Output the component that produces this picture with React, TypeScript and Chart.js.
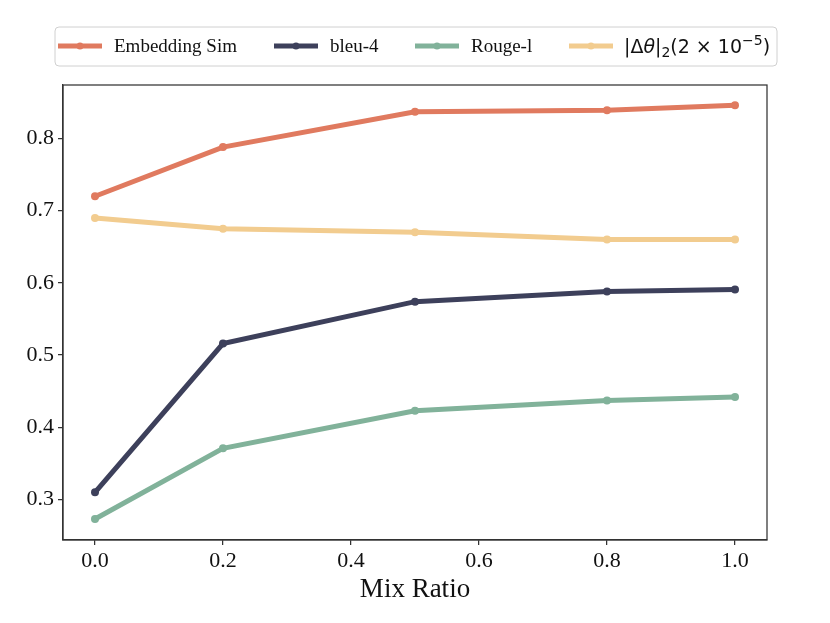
import React, { useEffect, useRef } from "react";
import { Chart, registerables } from "chart.js";

Chart.register(...registerables);

const mixRatios = [0.0, 0.2, 0.5, 0.8, 1.0];
const embeddingSim = [0.72, 0.788, 0.837, 0.839, 0.846];
const bleu4 = [0.31, 0.516, 0.574, 0.588, 0.591];
const rouge1 = [0.273, 0.371, 0.423, 0.437, 0.442];
const deltaTheta = [0.69, 0.675, 0.67, 0.66, 0.66];

const xTicks = [0.0, 0.2, 0.4, 0.6, 0.8, 1.0];
const yTicks = [0.3, 0.4, 0.5, 0.6, 0.7, 0.8];

const seriesNames = ["Embedding Sim", "bleu-4", "Rouge-l", "|Δθ|₂(2 × 10⁻⁵)"];
const seriesColors = ["#E07A5F", "#3D405B", "#81B29A", "#F2CC8F"];

const SERIF = "'Liberation Serif', 'DejaVu Serif', serif";
const SANS = "'DejaVu Sans', sans-serif";

// math-style pieces for the last legend label: [text, style, size, dy]
const mathPieces: [string, string, number, number][] = [
  ["|Δ", "normal", 19, 0],
  ["θ", "italic", 19, 0],
  ["|", "normal", 19, 0],
  ["2", "normal", 14, 4],
  ["(2 × 10", "normal", 19, 0],
  ["−5", "normal", 14, -8],
  [")", "normal", 19, 0],
];

const legendPlugin = {
  id: "boxLegend",
  afterDraw(chart: any) {
    const ctx = chart.ctx;
    ctx.save();
    const bx = 55, by = 27, bw = 722, bh = 39, r = 4;
    ctx.beginPath();
    ctx.moveTo(bx + r, by);
    ctx.lineTo(bx + bw - r, by);
    ctx.quadraticCurveTo(bx + bw, by, bx + bw, by + r);
    ctx.lineTo(bx + bw, by + bh - r);
    ctx.quadraticCurveTo(bx + bw, by + bh, bx + bw - r, by + bh);
    ctx.lineTo(bx + r, by + bh);
    ctx.quadraticCurveTo(bx, by + bh, bx, by + bh - r);
    ctx.lineTo(bx, by + r);
    ctx.quadraticCurveTo(bx, by, bx + r, by);
    ctx.closePath();
    ctx.fillStyle = "rgba(255,255,255,0.9)";
    ctx.fill();
    ctx.strokeStyle = "#d0d0d0";
    ctx.lineWidth = 1;
    ctx.stroke();

    const cy = 46;
    const lineStarts = [58, 274, 415, 569];
    chart.data.datasets.forEach((ds: any, i: number) => {
      const x0 = lineStarts[i];
      const x1 = x0 + 44;
      ctx.strokeStyle = ds.borderColor;
      ctx.lineWidth = 5;
      ctx.lineCap = "butt";
      ctx.beginPath();
      ctx.moveTo(x0, cy);
      ctx.lineTo(x1, cy);
      ctx.stroke();
      ctx.fillStyle = ds.borderColor;
      ctx.beginPath();
      ctx.arc((x0 + x1) / 2, cy, 3.5, 0, Math.PI * 2);
      ctx.fill();
      ctx.fillStyle = "#111";
      ctx.textAlign = "left";
      if (i === 3) {
        ctx.textBaseline = "alphabetic";
        let x = x1 + 11;
        const base = cy + 7;
        for (const [t, st, sz, dy] of mathPieces) {
          ctx.font = `${st} ${sz}px ${SANS}`;
          ctx.fillText(t, x, base + dy);
          x += ctx.measureText(t).width;
        }
      } else {
        ctx.textBaseline = "middle";
        ctx.font = `19px ${SERIF}`;
        ctx.fillText(ds.label, x1 + 12, cy + 1);
      }
    });
    ctx.restore();
  },
};

const framePlugin = {
  id: "frame",
  afterDatasetsDraw(chart: any) {
    const { ctx, chartArea } = chart;
    ctx.save();
    ctx.strokeStyle = "#333";
    ctx.lineWidth = 1.25;
    ctx.strokeRect(chartArea.left, chartArea.top, chartArea.right - chartArea.left, chartArea.bottom - chartArea.top);
    ctx.restore();
  },
};

export default function App() {
  const ref = useRef<HTMLCanvasElement | null>(null);
  useEffect(() => {
    if (!ref.current) return;
    const allSeries = [embeddingSim, bleu4, rouge1, deltaTheta];
    const chart = new Chart(ref.current, {
      type: "line",
      data: {
        datasets: allSeries.map((vals, i) => ({
          label: seriesNames[i],
          data: mixRatios.map((x, j) => ({ x, y: vals[j] })),
          borderColor: seriesColors[i],
          backgroundColor: seriesColors[i],
          pointBackgroundColor: seriesColors[i],
          pointBorderColor: seriesColors[i],
          borderWidth: 5,
          pointRadius: 4,
          pointBorderWidth: 0,
          tension: 0,
          order: 4 - i,
        })),
      },
      options: {
        animation: false,
        responsive: true,
        maintainAspectRatio: false,
        layout: { padding: { left: 0, right: 63, top: 85, bottom: 0 } },
        plugins: { legend: { display: false }, tooltip: { enabled: false } },
        scales: {
          x: {
            type: "linear",
            min: -0.05,
            max: 1.05,
            afterBuildTicks: (s: any) => {
              s.ticks = xTicks.map((v) => ({ value: v }));
            },
            afterFit: (s: any) => {
              s.height = 83;
            },
            ticks: {
              callback: (v: any) => Number(v).toFixed(1),
              font: { family: SERIF, size: 22 },
              color: "#111",
              padding: 3,
              maxRotation: 0,
            },
            grid: { drawOnChartArea: false, drawTicks: true, tickLength: 5, color: "#333", lineWidth: 1.25 },
            border: { display: true, color: "#333", width: 1.25 },
            title: {
              display: true,
              text: "Mix Ratio",
              font: { family: SERIF, size: 27 },
              color: "#111",
              padding: { top: 0, bottom: 17 },
            },
          },
          y: {
            type: "linear",
            min: 0.244,
            max: 0.874,
            afterBuildTicks: (s: any) => {
              s.ticks = yTicks.map((v) => ({ value: v }));
            },
            afterFit: (s: any) => {
              s.width = 63;
            },
            ticks: {
              callback: (v: any) => Number(v).toFixed(1),
              font: { family: SERIF, size: 22 },
              color: "#111",
              padding: 4,
            },
            grid: { drawOnChartArea: false, drawTicks: true, tickLength: 5, color: "#333", lineWidth: 1.25 },
            border: { display: true, color: "#333", width: 1.25 },
          },
        },
      },
      plugins: [legendPlugin, framePlugin],
    });
    return () => chart.destroy();
  }, []);
  return (
    <div style={{ position: "absolute", left: 0, top: 0, width: 830, height: 623, background: "#fff" }}>
      <canvas ref={ref} />
    </div>
  );
}
